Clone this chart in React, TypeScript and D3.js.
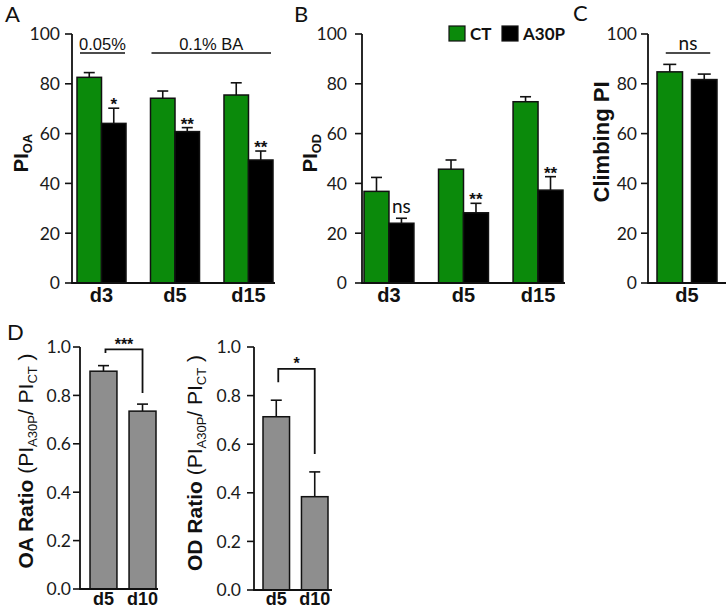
import React, { useEffect, useRef } from "react";
import * as d3 from "d3";

// ---------- data ----------
const daysABC = ["d3", "d5", "d15"];
const seriesNames = ["CT", "A30P"];
const oaCT = [82.6, 74.2, 75.5];
const oaCTErr = [1.9, 2.9, 4.9];
const oaA30P = [64.1, 60.8, 49.4];
const oaA30PErr = [6.1, 1.6, 3.6];
const oaSig = ["*", "**", "**"];
const odCT = [36.8, 45.7, 72.8];
const odCTErr = [5.6, 3.7, 2.0];
const odA30P = [24.0, 28.2, 37.3];
const odA30PErr = [2.0, 3.8, 5.4];
const odSig = ["ns", "**", "**"];
const climbDays = ["d5"];
const climbCT = [84.8];
const climbCTErr = [3.0];
const climbA30P = [81.7];
const climbA30PErr = [2.2];
const ratioDays = ["d5", "d10"];
const oaRatio = [0.9, 0.735];
const oaRatioErr = [0.023, 0.029];
const odRatio = [0.713, 0.384];
const odRatioErr = [0.068, 0.102];
const oaRatioSig = "***";
const odRatioSig = "*";
// bracket levels: [left leg end, top, right leg end]
const oaBracket = [0.975, 0.99, 0.81];
const odBracket = [0.855, 0.91, 0.56];
const yTicks100 = [0, 20, 40, 60, 80, 100];
const yTicksRatio = [0, 0.2, 0.4, 0.6, 0.8, 1.0];
const treatLabels = ["0.05%", "0.1% BA"];

const GREEN = "#0b8a0b";
const BLACK = "#000000";
const GRAY = "#8e8e8e";
const TICK_FONT = "Lato, 'Open Sans', sans-serif";
const BOLD_FONT = "'Liberation Sans', Arial, sans-serif";

type Series = { name: string; values: number[]; errs: number[]; color: string };

function drawPanel(svg: any, cfg: any) {
  const {
    groups, series, yMax, ticks, fmt, axisX, yBottom, yTop, xRange, axisEnd,
    groupPad, innerPad, labelGap, xLabelY, capW, xLabelSize,
  } = cfg;
  const y = d3.scaleLinear().domain([0, yMax]).range([yBottom, yTop]);
  const x0 = d3.scaleBand<string>().domain(groups).range(xRange).paddingInner(groupPad).paddingOuter(0);
  const x1 = d3
    .scaleBand<string>()
    .domain(series.map((s: Series) => s.name))
    .range([0, x0.bandwidth()])
    .paddingInner(innerPad);
  const g = svg.append("g");

  series.forEach((s: Series) => {
    groups.forEach((grp: string, i: number) => {
      const bx = (x0(grp) as number) + (x1(s.name) as number);
      const bw = x1.bandwidth();
      const cx = bx + bw / 2;
      const top = y(s.values[i]);
      const et = y(s.values[i] + s.errs[i]);
      g.append("line").attr("x1", cx).attr("x2", cx).attr("y1", top).attr("y2", et)
        .attr("stroke", "#111").attr("stroke-width", 1.6);
      g.append("line").attr("x1", cx - capW / 2).attr("x2", cx + capW / 2).attr("y1", et).attr("y2", et)
        .attr("stroke", "#111").attr("stroke-width", 1.6);
      g.append("rect").attr("x", bx).attr("y", top).attr("width", bw).attr("height", yBottom - top)
        .attr("fill", s.color).attr("stroke", "#111").attr("stroke-width", 1.5);
    });
  });

  // axes
  g.append("line").attr("x1", axisX).attr("x2", axisX).attr("y1", yBottom).attr("y2", y(yMax))
    .attr("stroke", "#111").attr("stroke-width", 1.8);
  g.append("line").attr("x1", axisX - 0.9).attr("x2", axisEnd).attr("y1", yBottom).attr("y2", yBottom)
    .attr("stroke", "#111").attr("stroke-width", 1.8);
  ticks.forEach((t: number) => {
    g.append("line").attr("x1", axisX - 7).attr("x2", axisX).attr("y1", y(t)).attr("y2", y(t))
      .attr("stroke", "#111").attr("stroke-width", 1.6);
    g.append("text").attr("x", axisX - labelGap).attr("y", y(t)).attr("dy", "0.36em")
      .attr("text-anchor", "end").attr("font-family", TICK_FONT).attr("font-size", 17.5)
      .attr("fill", "#1a1a1a").text(fmt(t));
  });
  groups.forEach((grp: string) => {
    g.append("text").attr("x", (x0(grp) as number) + x0.bandwidth() / 2).attr("y", xLabelY)
      .attr("text-anchor", "middle").attr("font-family", BOLD_FONT).attr("font-weight", "bold")
      .attr("font-size", xLabelSize || 20).attr("fill", "#111").text(grp);
  });
  return { y, x0, x1, g };
}

function sigText(g: any, x: number, yTop: number, label: string) {
  if (label === "ns") {
    g.append("text").attr("x", x).attr("y", yTop - 5).attr("text-anchor", "middle")
      .attr("font-family", TICK_FONT).attr("font-size", 19).attr("fill", "#111").text(label);
  } else {
    g.append("text").attr("x", x).attr("y", yTop + 2).attr("text-anchor", "middle")
      .attr("font-family", BOLD_FONT).attr("font-weight", "bold").attr("font-size", 17)
      .attr("fill", "#111").text(label);
  }
}

function yTitle(svg: any, x: number, y: number, parts: { t: string; bold?: boolean; sub?: boolean; size: number }[]) {
  const t = svg.append("text").attr("transform", `translate(${x},${y}) rotate(-90)`)
    .attr("text-anchor", "middle").attr("font-family", BOLD_FONT).attr("fill", "#111");
  let inSub = false;
  parts.forEach((p) => {
    const ts = t.append("tspan").attr("font-size", p.size).attr("font-weight", p.bold ? "bold" : "normal").text(p.t);
    if (p.sub && !inSub) { ts.attr("dy", 4); inSub = true; }
    else if (!p.sub && inSub) { ts.attr("dy", -4); inSub = false; }
  });
}

function panelLetter(svg: any, x: number, y: number, s: string) {
  svg.append("text").attr("x", x).attr("y", y).attr("font-family", TICK_FONT).attr("font-size", 22)
    .attr("fill", "#111").text(s);
}

export default function App() {
  const ref = useRef<SVGSVGElement>(null);
  useEffect(() => {
    const svg = d3.select(ref.current);
    svg.selectAll("*").remove();
    const fmt100 = (t: number) => String(t);
    const fmtR = (t: number) => t.toFixed(1);

    // ---- Panel A ----
    const A = drawPanel(svg, {
      groups: daysABC,
      series: [
        { name: seriesNames[0], values: oaCT, errs: oaCTErr, color: GREEN },
        { name: seriesNames[1], values: oaA30P, errs: oaA30PErr, color: BLACK },
      ],
      yMax: 100, ticks: yTicks100, fmt: fmt100, axisX: 72, yBottom: 283, yTop: 34,
      xRange: [77, 273], axisEnd: 275, groupPad: 0.333, innerPad: 0, labelGap: 12, xLabelY: 302, capW: 11,
    });
    daysABC.forEach((d, i) => {
      const cx = (A.x0(d) as number) + (A.x1(seriesNames[1]) as number) + A.x1.bandwidth() / 2;
      sigText(A.g, cx, A.y(oaA30P[i] + oaA30PErr[i]), oaSig[i]);
    });
    {
      const l1 = (A.x0(daysABC[0]) as number) + 3;
      const r1 = (A.x0(daysABC[0]) as number) + A.x0.bandwidth() - 1;
      const l2 = (A.x0(daysABC[1]) as number) + 1;
      const r2 = (A.x0(daysABC[2]) as number) + A.x0.bandwidth() - 2;
      const ly = 53;
      [[l1, r1, treatLabels[0]], [l2, r2, treatLabels[1]]].forEach(([l, r, txt]: any) => {
        A.g.append("line").attr("x1", l).attr("x2", r).attr("y1", ly).attr("y2", ly)
          .attr("stroke", "#111").attr("stroke-width", 1.6);
        A.g.append("text").attr("x", (l + r) / 2).attr("y", ly - 3.5).attr("text-anchor", "middle")
          .attr("font-family", BOLD_FONT).attr("font-size", 16.5).attr("fill", "#111").text(txt);
      });
    }
    yTitle(svg, 28, 153, [
      { t: "PI", bold: true, size: 20 },
      { t: "OA", bold: true, sub: true, size: 13 },
    ]);
    panelLetter(svg, 5, 22, "A");

    // ---- Panel B ----
    const B = drawPanel(svg, {
      groups: daysABC,
      series: [
        { name: seriesNames[0], values: odCT, errs: odCTErr, color: GREEN },
        { name: seriesNames[1], values: odA30P, errs: odA30PErr, color: BLACK },
      ],
      yMax: 100, ticks: yTicks100, fmt: fmt100, axisX: 362, yBottom: 283, yTop: 34,
      xRange: [364, 563], axisEnd: 565, groupPad: 0.33, innerPad: 0, labelGap: 15, xLabelY: 302, capW: 11,
    });
    daysABC.forEach((d, i) => {
      const cx = (B.x0(d) as number) + (B.x1(seriesNames[1]) as number) + B.x1.bandwidth() / 2;
      sigText(B.g, cx, B.y(odA30P[i] + odA30PErr[i]), odSig[i]);
    });
    yTitle(svg, 317, 153, [
      { t: "PI", bold: true, size: 20 },
      { t: "OD", bold: true, sub: true, size: 13 },
    ]);
    panelLetter(svg, 294, 22, "B");

    // legend
    const lg = svg.append("g");
    [
      { x: 449, c: GREEN, t: seriesNames[0] },
      { x: 502, c: BLACK, t: seriesNames[1] },
    ].forEach((it) => {
      lg.append("rect").attr("x", it.x).attr("y", 26).attr("width", 16).attr("height", 15)
        .attr("fill", it.c).attr("stroke", "#111").attr("stroke-width", 1.2);
      lg.append("text").attr("x", it.x + 21).attr("y", 40).attr("font-family", TICK_FONT)
        .attr("font-weight", "bold").attr("font-size", 17).attr("fill", "#111").text(it.t);
    });

    // ---- Panel C ----
    const C = drawPanel(svg, {
      groups: climbDays,
      series: [
        { name: seriesNames[0], values: climbCT, errs: climbCTErr, color: GREEN },
        { name: seriesNames[1], values: climbA30P, errs: climbA30PErr, color: BLACK },
      ],
      yMax: 100, ticks: yTicks100, fmt: fmt100, axisX: 648, yBottom: 283, yTop: 34,
      xRange: [657, 717], axisEnd: 726, groupPad: 0, innerPad: 0.26, labelGap: 11, xLabelY: 302, capW: 13,
    });
    {
      const c1 = (C.x0(climbDays[0]) as number) + (C.x1(seriesNames[0]) as number) + C.x1.bandwidth() / 2;
      const c2 = (C.x0(climbDays[0]) as number) + (C.x1(seriesNames[1]) as number) + C.x1.bandwidth() / 2;
      const ly = 53;
      C.g.append("line").attr("x1", c1 - 4).attr("x2", c2 + 6).attr("y1", ly).attr("y2", ly)
        .attr("stroke", "#111").attr("stroke-width", 1.6);
      C.g.append("text").attr("x", (c1 + c2) / 2 + 1).attr("y", ly - 3.5).attr("text-anchor", "middle")
        .attr("font-family", TICK_FONT).attr("font-size", 19).attr("fill", "#111").text("ns");
    }
    yTitle(svg, 609, 142, [{ t: "Climbing PI", bold: true, size: 22 }]);
    panelLetter(svg, 573, 21, "C");

    // ---- Panel D ----
    const drawRatio = (axisX: number, yBottom: number, yTop: number, xr: [number, number], axisEnd: number,
      vals: number[], errs: number[], bracket: number[], sig: string, labelGap: number) => {
      const P = drawPanel(svg, {
        groups: ratioDays,
        series: [{ name: "r", values: vals, errs, color: GRAY }],
        yMax: 1.0, ticks: yTicksRatio, fmt: fmtR, axisX, yBottom, yTop,
        xRange: xr, axisEnd, groupPad: 0.31, innerPad: 0, labelGap, xLabelY: 605, capW: 11, xLabelSize: 18,
      });
      const c1 = (P.x0(ratioDays[0]) as number) + P.x0.bandwidth() / 2 + 2;
      const c2 = (P.x0(ratioDays[1]) as number) + P.x0.bandwidth() / 2;
      const path = d3.path();
      path.moveTo(c1, P.y(bracket[0]));
      path.lineTo(c1, P.y(bracket[1]));
      path.lineTo(c2, P.y(bracket[1]));
      path.lineTo(c2, P.y(bracket[2]));
      P.g.append("path").attr("d", path.toString()).attr("fill", "none")
        .attr("stroke", "#111").attr("stroke-width", 1.8);
      P.g.append("text").attr("x", (c1 + c2) / 2).attr("y", P.y(bracket[1]) + 0.5)
        .attr("text-anchor", "middle").attr("font-family", BOLD_FONT).attr("font-weight", "bold")
        .attr("font-size", 16).attr("fill", "#111").text(sig);
    };
    drawRatio(80, 589, 347, [90, 156], 158, oaRatio, oaRatioErr, oaBracket, oaRatioSig, 9);
    drawRatio(254, 590, 347, [263, 328], 332, odRatio, odRatioErr, odBracket, odRatioSig, 13);

    yTitle(svg, 33, 461, [
      { t: "OA Ratio ", bold: true, size: 21 },
      { t: "(PI", size: 21 },
      { t: "A30P", sub: true, size: 13 },
      { t: "/ PI", size: 21 },
      { t: "CT", sub: true, size: 13 },
      { t: " )", size: 21 },
    ]);
    yTitle(svg, 202, 463, [
      { t: "OD Ratio ", bold: true, size: 21 },
      { t: "(PI", size: 21 },
      { t: "A30P", sub: true, size: 13 },
      { t: "/ PI", size: 21 },
      { t: "CT", sub: true, size: 13 },
      { t: " )", size: 21 },
    ]);
    panelLetter(svg, 7, 340, "D");
  }, []);

  return (
    <svg
      ref={ref}
      width={726}
      height={613}
      style={{ position: "absolute", left: 0, top: 0, background: "#fff" }}
    />
  );
}
